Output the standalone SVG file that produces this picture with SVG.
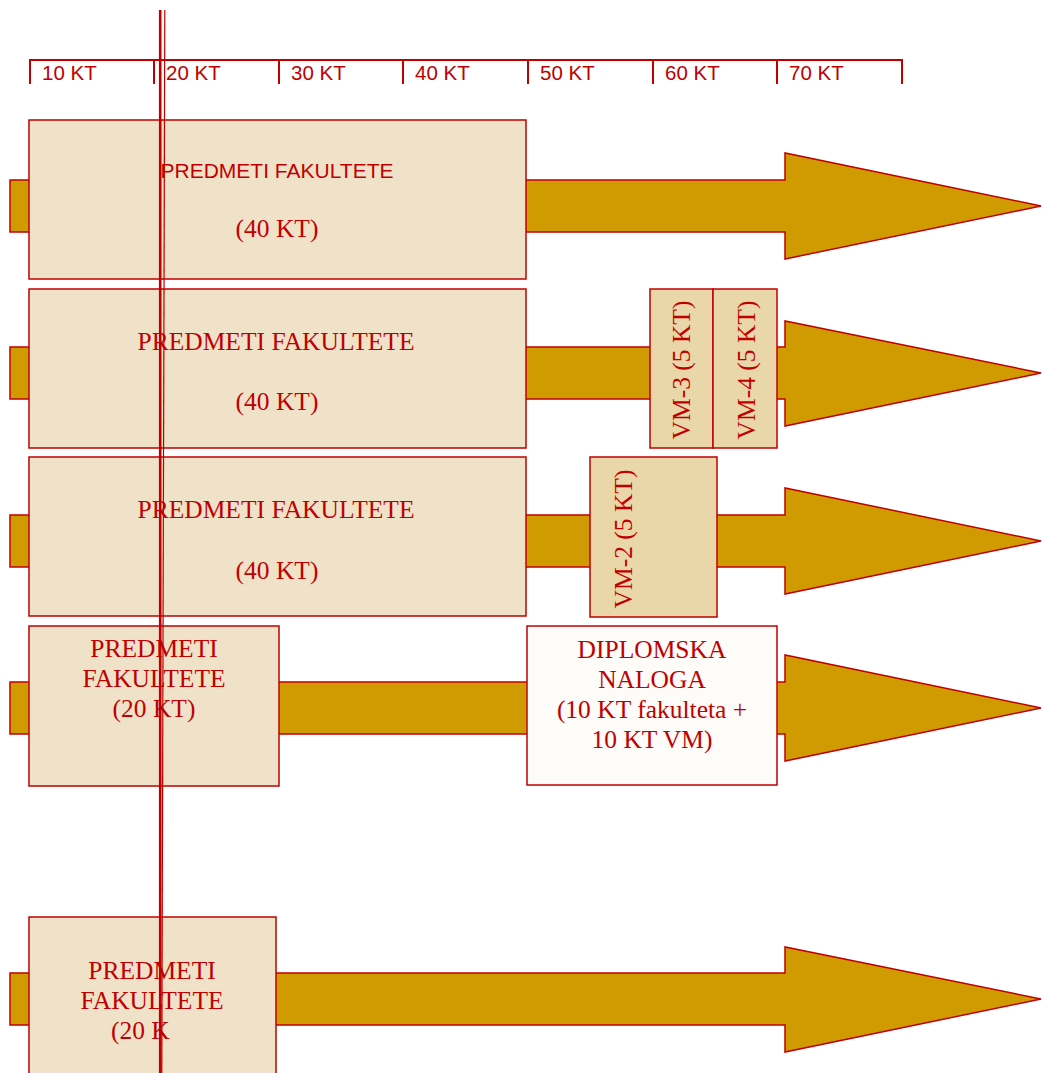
<svg xmlns="http://www.w3.org/2000/svg" width="1042" height="1073" viewBox="0 0 1042 1073">
<style>
.arr{fill:#cf9b00;stroke:#c00000;stroke-width:1.5}
.box{fill:#f0e2c8;stroke:#c00000;stroke-width:1.5}
.vm{fill:#e9d6a9;stroke:#c00000;stroke-width:1.5}
.wb{fill:#fdfcf8;stroke:#c00000;stroke-width:1.5}
.sans{font-family:"Liberation Sans",Arial,sans-serif;fill:#c00000}
.serif{font-family:"Liberation Serif","Times New Roman",serif;fill:#c00000;font-size:25.5px}
.rl{fill:none;stroke:#c00000;stroke-width:2}
</style>
<rect width="1042" height="1073" fill="#fff"/>
<g id="ruler">
<path class="rl" d="M30,84V60H902V84M154,60V84M279,60V84M403,60V84M528,60V84M653,60V84M777,60V84"/>
<g class="sans" font-size="20.5">
<text x="42" y="80">10 KT</text>
<text x="166" y="80">20 KT</text>
<text x="291" y="80">30 KT</text>
<text x="415" y="80">40 KT</text>
<text x="540" y="80">50 KT</text>
<text x="665" y="80">60 KT</text>
<text x="789" y="80">70 KT</text>
</g>
</g>
<g id="connectors">
<polygon class="arr" points="10,180 785,180 785,153 1041,206 785,259 785,232 10,232"/>
<polygon class="arr" points="10,347 785,347 785,321 1041,373 785,426 785,399 10,399"/>
<polygon class="arr" points="10,515 785,515 785,488 1041,541 785,594 785,567 10,567"/>
<polygon class="arr" points="10,682 785,682 785,655 1041,708 785,761 785,734 10,734"/>
<polygon class="arr" points="10,973 785,973 785,947 1041,999 785,1052 785,1025 10,1025"/>
</g>
<g id="row1">
<rect class="box" x="29" y="120" width="497" height="159"/>
<text class="sans" font-size="21" x="277" y="178" text-anchor="middle">PREDMETI FAKULTETE</text>
<text class="serif" x="277" y="237" text-anchor="middle">(40 KT)</text>
</g>
<g id="row2">
<rect class="box" x="29" y="289" width="497" height="159"/>
<text class="serif" x="276" y="350" text-anchor="middle">PREDMETI FAKULTETE</text>
<text class="serif" x="277" y="410" text-anchor="middle">(40 KT)</text>
</g>
<g id="vm3">
<rect class="vm" x="650" y="289" width="63" height="159"/>
<text class="serif" transform="translate(690,370) rotate(-90)" text-anchor="middle">VM-3 (5 KT)</text>
</g>
<g id="vm4">
<rect class="vm" x="713" y="289" width="64" height="159"/>
<text class="serif" transform="translate(755,370) rotate(-90)" text-anchor="middle">VM-4 (5 KT)</text>
</g>
<g id="row3">
<rect class="box" x="29" y="457" width="497" height="159"/>
<text class="serif" x="276" y="518" text-anchor="middle">PREDMETI FAKULTETE</text>
<text class="serif" x="277" y="579" text-anchor="middle">(40 KT)</text>
</g>
<g id="vm2">
<rect class="vm" x="590" y="457" width="127" height="160"/>
<text class="serif" transform="translate(632,539) rotate(-90)" text-anchor="middle">VM-2 (5 KT)</text>
</g>
<g id="row4">
<rect class="box" x="29" y="626" width="250" height="160"/>
<text class="serif" text-anchor="middle"><tspan x="154" y="657">PREDMETI</tspan><tspan x="154" y="687">FAKULTETE</tspan><tspan x="154" y="717">(20 KT)</tspan></text>
</g>
<g id="diplomska">
<rect class="wb" x="527" y="626" width="250" height="159"/>
<text class="serif" text-anchor="middle"><tspan x="652" y="658">DIPLOMSKA</tspan><tspan x="652" y="688">NALOGA</tspan><tspan x="652" y="718">(10 KT fakulteta +</tspan><tspan x="652" y="748">10 KT VM)</tspan></text>
</g>
<g id="row5">
<rect class="box" x="29" y="917" width="247" height="160"/>
<text class="serif" text-anchor="middle"><tspan x="152" y="979">PREDMETI</tspan><tspan x="152" y="1009">FAKULTETE</tspan></text>
<text class="serif" x="111" y="1039">(20 K</text>
</g>
<g id="marker-line">
<line x1="160.2" y1="10" x2="160.2" y2="1073" stroke="#c00000" stroke-width="2.6"/>
<line x1="164.8" y1="10" x2="161.8" y2="1073" stroke="#c00000" stroke-width="1.2"/>
</g>
</svg>
